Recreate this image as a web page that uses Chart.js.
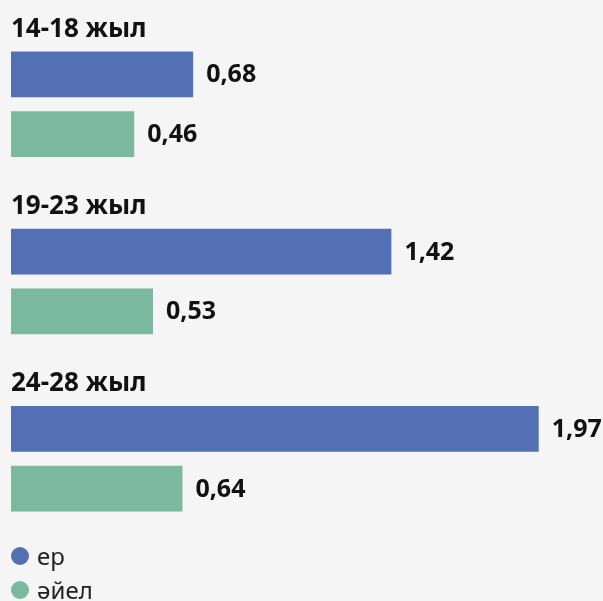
<!DOCTYPE html>
<html>
<head>
<meta charset="utf-8">
<script src="https://cdn.jsdelivr.net/npm/chart.js@4"></script>
<style>
  html, body { margin: 0; padding: 0; background: #f5f5f5; }
  body { width: 603px; height: 601px; position: relative; overflow: hidden; font-family: "Noto Sans", sans-serif; }
  #wrap { position: absolute; left: 0; top: 0; width: 603px; height: 563px; }
  .legend { position: absolute; left: 11px; font-size: 24px; color: #222; display: flex; align-items: center; line-height: 1; }
  .legend .dot { width: 18px; height: 18px; border-radius: 50%; margin-right: 8px; }
</style>
</head>
<body>
<div id="wrap"><canvas id="chart"></canvas></div>
<div class="legend" style="top:544px"><span class="dot" style="background:#5470b4"></span>ер</div>
<div class="legend" style="top:578px"><span class="dot" style="background:#7ab8a0"></span>әйел</div>
<script>
// age groups and values
const groups    = ['14-18 жыл', '19-23 жыл', '24-28 жыл'];
const menVals   = [0.68, 1.42, 1.97];
const womenVals = [0.46, 0.53, 0.64];
const seriesNames = ['ер', 'әйел'];

const BLUE  = '#5470b4';
const GREEN = '#7ab8a0';

// writes value next to each bar end
const valueLabels = {
  id: 'valueLabels',
  afterDatasetsDraw(chart) {
    const ctx = chart.ctx;
    ctx.save();
    ctx.font = 'bold 25px "Noto Sans"';
    ctx.fillStyle = '#111';
    ctx.textAlign = 'left';
    ctx.textBaseline = 'middle';
    chart.data.datasets.forEach((ds, i) => {
      chart.getDatasetMeta(i).data.forEach((bar, j) => {
        const txt = ds.data[j].toFixed(2).replace('.', ',');
        ctx.fillText(txt, bar.x + 13, bar.y + 1);
      });
    });
    ctx.restore();
  }
};

new Chart(document.getElementById('chart'), {
  type: 'bar',
  data: {
    labels: groups,
    datasets: [
      { label: seriesNames[0], data: menVals,   backgroundColor: BLUE },
      { label: seriesNames[1], data: womenVals, backgroundColor: GREEN },
    ],
  },
  options: {
    indexAxis: 'y',
    responsive: true,
    maintainAspectRatio: false,
    animation: false,
    layout: { padding: { left: 3, right: 0, top: 11, bottom: 0 } },
    datasets: { bar: { categoryPercentage: 0.674, barPercentage: 0.767 } },
    plugins: { legend: { display: false }, tooltip: { enabled: false } },
    scales: {
      x: { display: false, min: 0, max: 2.21 },
      y: {
        grid: { display: false },
        border: { display: false },
        ticks: {
          mirror: true,
          padding: 0,
          labelOffset: -75,
          color: '#111',
          font: { family: 'Noto Sans', size: 26, weight: 'bold' },
        },
      },
    },
  },
  plugins: [valueLabels],
});
</script>
</body>
</html>
